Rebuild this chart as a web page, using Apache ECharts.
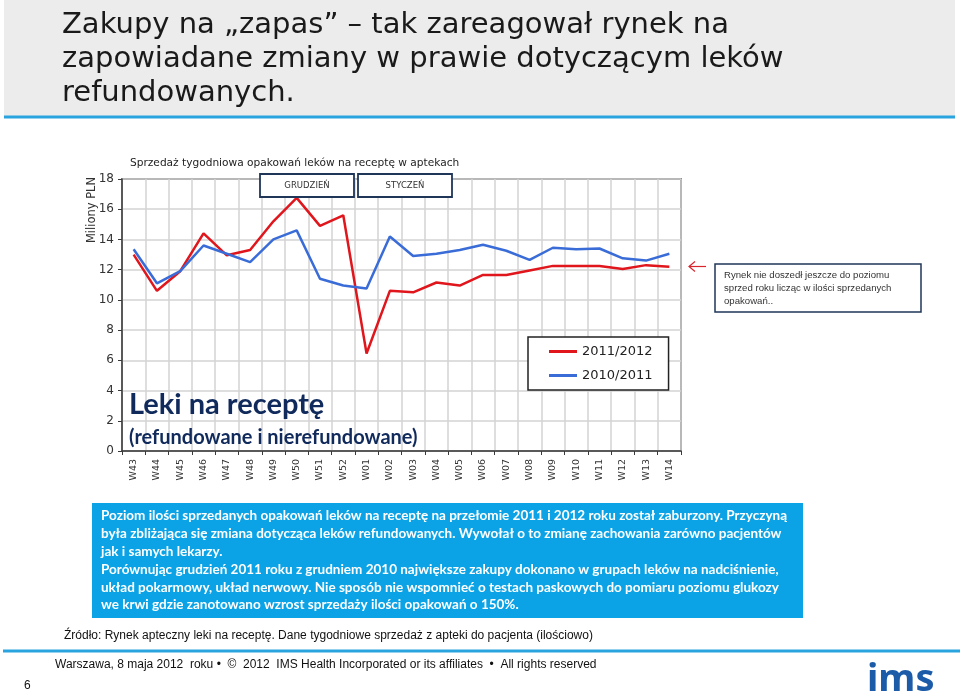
<!DOCTYPE html>
<html><head><meta charset="utf-8">
<script src="https://cdn.jsdelivr.net/npm/echarts@6/dist/echarts.min.js"></script>
<style>html,body{margin:0;padding:0;background:#fff}#c{width:960px;height:696px}</style>
</head><body><div id="c"></div>
<script>
const weeks = ['W43','W44','W45','W46','W47','W48','W49','W50','W51','W52','W01','W02','W03','W04','W05','W06','W07','W08','W09','W10','W11','W12','W13','W14'];
const sales2011_2012 = [13.0,10.6,11.9,14.4,12.95,13.3,15.2,16.75,14.9,15.6,6.45,10.6,10.5,11.15,10.95,11.65,11.65,11.95,12.25,12.25,12.25,12.05,12.3,12.2];
const sales2010_2011 = [13.35,11.1,11.9,13.6,13.05,12.5,14.0,14.6,11.4,10.95,10.75,14.2,12.9,13.05,13.3,13.65,13.25,12.65,13.45,13.35,13.4,12.75,12.6,13.05];
const yTicks = {min:0, max:18, interval:2};
const seriesNames = ['2011/2012','2010/2011'];

const chart = echarts.init(document.getElementById('c'), null, {renderer:'canvas'});
const navy = '#102a5c';
const sans = 'DejaVu Sans';
const narrow = "'Liberation Sans Narrow','Liberation Sans',sans-serif";
const boxText = [
 'Poziom ilości sprzedanych opakowań leków na receptę na przełomie 2011 i 2012 roku został zaburzony. Przyczyną',
 'była zbliżająca się zmiana dotycząca leków refundowanych. Wywołał o to zmianę zachowania zarówno pacjentów',
 'jak i samych lekarzy.',
 'Porównując grudzień 2011 roku z grudniem 2010 największe zakupy dokonano w grupach leków na nadciśnienie,',
 'układ pokarmowy, układ nerwowy. Nie sposób nie wspomnieć o testach paskowych do pomiaru poziomu glukozy',
 'we krwi gdzie zanotowano wzrost sprzedaży ilości opakowań o 150%.'
];
const graphics = [
  {type:'rect', shape:{x:4,y:0,width:951,height:116}, style:{fill:'#ececec'}, z:-1},
  {type:'line', shape:{x1:4,y1:117,x2:955,y2:117}, style:{stroke:'#2aa4de',lineWidth:3}},
  {type:'text', x:62, y:25, style:{text:'Zakupy na „zapas” – tak zareagował rynek na', font:'29px "DejaVu Sans"', fill:'#1a1a1a', verticalAlign:'middle'}},
  {type:'text', x:62, y:59, style:{text:'zapowiadane zmiany w prawie dotyczącym leków', font:'29px "DejaVu Sans"', fill:'#1a1a1a', verticalAlign:'middle'}},
  {type:'text', x:62, y:93, style:{text:'refundowanych.', font:'29px "DejaVu Sans"', fill:'#1a1a1a', verticalAlign:'middle'}},
  {type:'text', x:130, y:163, style:{text:'Sprzedaż tygodniowa opakowań leków na receptę w aptekach', font:'10.6px "DejaVu Sans"', fill:'#222', verticalAlign:'middle'}},
  {type:'text', x:92, y:210, rotation:Math.PI/2, style:{text:'Miliony PLN', font:'11.5px "DejaVu Sans"', fill:'#333', align:'center', verticalAlign:'middle'}},
  {type:'rect', shape:{x:260,y:174,width:94,height:23}, style:{fill:'#fff',stroke:'#1f3658',lineWidth:1.8}, z:10},
  {type:'text', x:307, y:185.5, z:11, style:{text:'GRUDZIEŃ', font:'8.5px "DejaVu Sans"', fill:'#333', align:'center', verticalAlign:'middle'}},
  {type:'rect', shape:{x:358,y:174,width:94,height:23}, style:{fill:'#fff',stroke:'#1f3658',lineWidth:1.8}, z:10},
  {type:'text', x:405, y:185.5, z:11, style:{text:'STYCZEŃ', font:'8.5px "DejaVu Sans"', fill:'#333', align:'center', verticalAlign:'middle'}},
  {type:'text', x:129, y:405, z:11, style:{text:'Leki na receptę', font:'bold 29px Lato', fill:navy, verticalAlign:'middle'}},
  {type:'text', x:129, y:438, z:11, style:{text:'(refundowane i nierefundowane)', font:'bold 20px Lato', fill:navy, verticalAlign:'middle'}},
  {type:'line', shape:{x1:689,y1:266.5,x2:706,y2:266.5}, style:{stroke:'#d9262c',lineWidth:1.2}},
  {type:'polyline', shape:{points:[[695,261.5],[689,266.5],[695,271.5]]}, style:{stroke:'#d9262c',lineWidth:1.2,fill:null}},
  {type:'rect', shape:{x:715,y:264,width:206,height:48}, style:{fill:'#fff',stroke:'#1f3658',lineWidth:1.5}},
  {type:'text', x:724, y:288, style:{text:'Rynek nie doszedł jeszcze do poziomu\nsprzed roku licząc w ilości sprzedanych\nopakowań..', font:'9.6px "Liberation Sans"', fill:'#333', lineHeight:13, verticalAlign:'middle'}},
  {type:'rect', shape:{x:92,y:503,width:711,height:115}, style:{fill:'#0ba3e6'}},
  {type:'line', shape:{x1:3,y1:651,x2:960,y2:651}, style:{stroke:'#2aa4de',lineWidth:3}},
  {type:'text', x:64, y:636, style:{text:'Źródło: Rynek apteczny leki na receptę. Dane tygodniowe sprzedaż z apteki do pacjenta (ilościowo)', font:'12px '+narrow, fill:'#111', verticalAlign:'middle'}},
  {type:'text', x:55, y:665, style:{text:'Warszawa, 8 maja 2012  roku •  ©  2012  IMS Health Incorporated or its affiliates  •  All rights reserved', font:'12px '+narrow, fill:'#111', verticalAlign:'middle'}},
  {type:'text', x:24, y:686, style:{text:'6', font:'12px '+narrow, fill:'#111', verticalAlign:'middle'}},
  {type:'text', x:867, y:680, style:{text:'ims', font:'bold 38px "Noto Sans"', fill:'#1b5ba8', verticalAlign:'middle'}}
];
boxText.forEach((t,i)=>{
  graphics.push({type:'text', x:101, y:516 + i*17.8, style:{text:t, font:'bold 13.5px Lato', fill:'#fff', verticalAlign:'middle'}});
});

chart.setOption({
  animation:false,
  backgroundColor:'#fff',
  grid:{left:122, right:279, top:179, bottom:245, show:true, borderColor:'#3a3a3a', borderWidth:1.5, backgroundColor:'transparent'},
  legend:{
    data:seriesNames, orient:'vertical', left:528, top:337,
    backgroundColor:'#fff', borderColor:'#222', borderWidth:1.5,
    padding:[8,16,8,21], itemGap:11, itemWidth:28, itemHeight:3, icon:'rect',
    textStyle:{fontFamily:sans, fontSize:13, color:'#222'}
  },
  xAxis:{
    type:'category', data:weeks, boundaryGap:true,
    axisLine:{lineStyle:{color:'#3a3a3a', width:1.5}},
    axisTick:{show:true, inside:false, length:4, lineStyle:{color:'#3a3a3a'}},
    axisLabel:{interval:0, rotate:90, fontFamily:sans, fontSize:9.5, color:'#333', margin:8},
    splitLine:{show:true, interval:0, lineStyle:{color:'#d3d3d3', width:1.5}}
  },
  yAxis:{
    type:'value', min:yTicks.min, max:yTicks.max, interval:yTicks.interval,
    axisLine:{show:true, lineStyle:{color:'#3a3a3a', width:1.5}},
    axisTick:{show:true, length:4, lineStyle:{color:'#3a3a3a'}},
    axisLabel:{fontFamily:sans, fontSize:12, color:'#333', margin:8},
    splitLine:{show:true, lineStyle:{color:'#d3d3d3', width:1.5}}
  },
  series:[
    {name:seriesNames[0], type:'line', data:sales2011_2012, symbol:'none', color:'#e0161c', lineStyle:{width:2.5, color:'#e0161c'}},
    {name:seriesNames[1], type:'line', data:sales2010_2011, symbol:'none', color:'#3a6cd8', lineStyle:{width:2.5, color:'#3a6cd8'}}
  ],
  graphic:graphics
});
</script></body></html>
